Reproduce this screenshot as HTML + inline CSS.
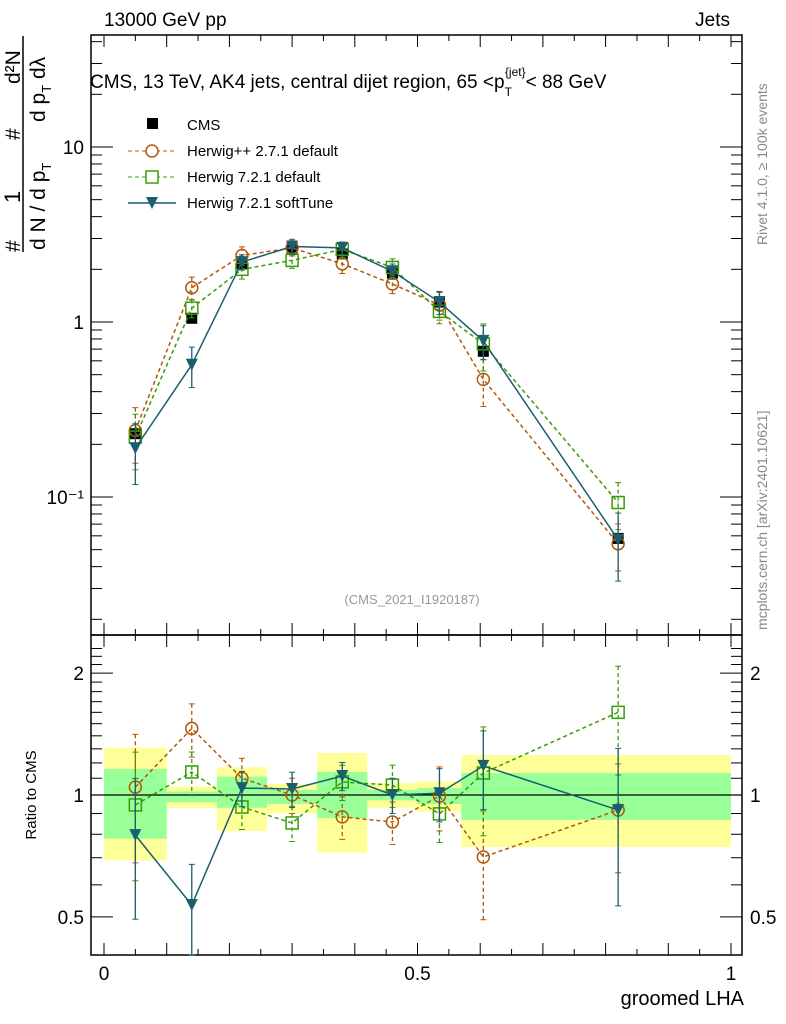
<!DOCTYPE html>
<html><head><meta charset="utf-8"><style>
body{margin:0;background:#fff;}
svg{display:block;font-family:"Liberation Sans",sans-serif;}
</style></head><body>
<svg id="plot" width="786" height="1024" viewBox="0 0 786 1024">
<g id="bands"></g>
<g id="axes"></g>
<g id="series"></g>
<text x="104" y="26" font-size="19">13000 GeV pp</text>
<text x="730" y="26" font-size="19" text-anchor="end">Jets</text>
<text x="90" y="88" font-size="19">CMS, 13 TeV, AK4 jets, central dijet region, 65 &lt;p<tspan font-size="12" dy="8">T</tspan><tspan font-size="12" dy="-20" dx="-7">{jet}</tspan><tspan dy="12">&lt; 88 GeV</tspan></text>
<text x="412" y="604" font-size="13" fill="#999" text-anchor="middle">(CMS_2021_I1920187)</text>
<text transform="translate(767,245) rotate(-90)" font-size="14" fill="#888">Rivet 4.1.0, ≥ 100k events</text>
<text transform="translate(767,630) rotate(-90)" font-size="14" fill="#888">mcplots.cern.ch [arXiv:2401.10621]</text>
<g font-size="21">
<text transform="translate(20,252) rotate(-90)">#</text>
<text transform="translate(20,203) rotate(-90)" font-size="22">1</text>
<text transform="translate(20,140) rotate(-90)">#</text>
<text transform="translate(20,84) rotate(-90)">d²N</text>
<line x1="23" y1="252" x2="23" y2="36" stroke="#000" stroke-width="1.5"/>
<text transform="translate(45,250) rotate(-90)">d N / d p<tspan font-size="13" dy="6">T</tspan></text>
<text transform="translate(45,122) rotate(-90)">d p<tspan font-size="13" dy="6">T</tspan><tspan dy="-6"> d</tspan>λ</text>
</g>
<text transform="translate(36,795) rotate(-90)" font-size="15" text-anchor="middle">Ratio to CMS</text>
<text x="744" y="1005" font-size="20" text-anchor="end">groomed LHA</text>
<g font-size="15">
<g><rect x="147" y="118" width="11" height="11" fill="#000"/><text x="187" y="130">CMS</text></g>
<g><line x1="128" y1="151" x2="176" y2="151" stroke="#b35806" stroke-dasharray="4,3"/><circle cx="152" cy="151" r="6" fill="#fff" stroke="#b35806" stroke-width="1.5"/><text x="187" y="156">Herwig++ 2.7.1 default</text></g>
<g><line x1="128" y1="177" x2="176" y2="177" stroke="#3a9a0a" stroke-dasharray="4,3"/><rect x="146" y="171" width="12" height="12" fill="#fff" stroke="#3a9a0a" stroke-width="1.5"/><text x="187" y="182">Herwig 7.2.1 default</text></g>
<g><line x1="128" y1="203" x2="176" y2="203" stroke="#1b5e6e" stroke-width="1.5"/><path d="M146,197 L158,197 L152,209 Z" fill="#1b5e6e"/><text x="187" y="208">Herwig 7.2.1 softTune</text></g>
</g>
</svg>
<script>
const xCenters=[0.05,0.14,0.22,0.30,0.38,0.46,0.535,0.605,0.82];
const binEdges=[0,0.1,0.18,0.26,0.34,0.42,0.5,0.57,0.65,1.0];
const cmsVals=[0.23,1.05,2.15,2.65,2.45,1.9,1.3,0.68,0.058];
const hwppVals=[0.24,1.57,2.4,2.65,2.15,1.65,1.25,0.47,0.054];
const h7defVals=[0.22,1.2,2.0,2.25,2.6,2.05,1.15,0.75,0.093];
const h7softVals=[0.19,0.57,2.2,2.7,2.65,1.95,1.3,0.78,0.057];
const hwppErr=[0.35,0.15,0.12,0.1,0.12,0.12,0.18,0.3,0.3];
const h7defErr=[0.35,0.12,0.12,0.1,0.1,0.12,0.15,0.3,0.3];
const h7softErr=[0.38,0.26,0.1,0.1,0.08,0.1,0.15,0.22,0.42];
const hwppRatio=[1.046,1.46,1.10,1.0,0.883,0.858,0.994,0.703,0.918];
const h7defRatio=[0.945,1.14,0.934,0.853,1.077,1.058,0.898,1.133,1.60];
const h7softRatio=[0.796,0.535,1.04,1.035,1.114,1.0,1.01,1.18,0.918];
const yellowLo=[0.69,0.93,0.815,0.90,0.72,0.93,0.91,0.744,0.744];
const yellowHi=[1.31,1.05,1.17,1.065,1.27,1.07,1.08,1.255,1.255];
const greenLo=[0.78,0.96,0.93,0.95,0.877,0.97,0.95,0.868,0.868];
const greenHi=[1.16,1.02,1.11,1.03,1.14,1.03,1.04,1.133,1.133];
const mainTicks=[0.1,1,10];
const mainTickLabels=["10\u207B\u00B9","1","10"];
const ratioTicks=[0.5,1,2];
const ratioTickLabels=["0.5","1","2"];
const xTicks=[0,0.5,1];
const xTickLabels=["0","0.5","1"];

const NS="http://www.w3.org/2000/svg";
const L=91,R=742,T=35,MB=635,RB=955;
const X=v=>104+v*(731-104);
const Y=v=>322-Math.log10(v)*175;
const YR=v=>795-Math.log10(v)*405;
function mk(tag,attrs,parent){const e=document.createElementNS(NS,tag);for(const k in attrs)e.setAttribute(k,attrs[k]);parent.appendChild(e);return e;}
const bands=document.getElementById('bands'),axes=document.getElementById('axes'),series=document.getElementById('series');

for(let i=0;i<xCenters.length;i++){
  const x1=X(binEdges[i]),x2=X(binEdges[i+1]);
  const y=mk('rect',{x:x1,y:YR(yellowHi[i]),width:x2-x1,height:YR(yellowLo[i])-YR(yellowHi[i]),fill:'#ffff99'},bands);
  
  
  const g=mk('rect',{x:x1,y:YR(greenHi[i]),width:x2-x1,height:YR(greenLo[i])-YR(greenHi[i]),fill:'#99ff99'},bands);
  
  
}
mk('rect',{x:L,y:T,width:R-L,height:MB-T,fill:'none',stroke:'#000','stroke-width':1.5},axes);
mk('rect',{x:L,y:MB,width:R-L,height:RB-MB,fill:'none',stroke:'#000','stroke-width':1.5},axes);
mk('line',{x1:L,x2:R,y1:YR(1),y2:YR(1),stroke:'#000','stroke-width':1.2},axes);
for(let v=0;v<=1.0001;v+=0.05){
  const big=Math.abs(v*10-Math.round(v*10))<1e-6;const len=big?12:6;
  for(const [yb,yt] of [[MB,T],[RB,MB]]){
    mk('line',{x1:X(v),x2:X(v),y1:yb,y2:yb-len,stroke:'#000'},axes);
    mk('line',{x1:X(v),x2:X(v),y1:yt,y2:yt+len,stroke:'#000'},axes);
  }
}
xTicks.forEach((v,i)=>{const t=mk('text',{x:X(v),y:980,'font-size':19,'text-anchor':'middle'},axes);t.textContent=xTickLabels[i];

});
for(let d=-2;d<=1;d++)for(let m=1;m<=9;m++){const v=m*Math.pow(10,d);const y=Y(v);if(y<T||y>MB)continue;const len=m==1?22:11;
  mk('line',{x1:L,x2:L+len,y1:y,y2:y,stroke:'#000'},axes);mk('line',{x1:R,x2:R-len,y1:y,y2:y,stroke:'#000'},axes);}
mainTicks.forEach((v,i)=>{const t=mk('text',{x:84,y:Y(v)+7,'font-size':19,'text-anchor':'end'},axes);t.textContent=mainTickLabels[i];

});
for(let v=0.4;v<=2.31;v+=0.1){const y=YR(v);if(y<MB||y>RB)continue;const r=Math.round(v*10);const len=(r==5||r==10||r==20)?22:11;
  mk('line',{x1:L,x2:L+len,y1:y,y2:y,stroke:'#000'},axes);mk('line',{x1:R,x2:R-len,y1:y,y2:y,stroke:'#000'},axes);}
ratioTicks.forEach((v,i)=>{for(const [x,a] of [[84,'end'],[750,'start']]){const t=mk('text',{x:x,y:YR(v)+7,'font-size':19,'text-anchor':a},axes);t.textContent=ratioTickLabels[i];

}});

function marker(kind,x,y,c,g){
  if(kind=='sq')mk('rect',{x:x-5.5,y:y-5.5,width:11,height:11,fill:'#000'},g);
  else if(kind=='circ')mk('circle',{cx:x,cy:y,r:6,fill:'none',stroke:c,'stroke-width':1.5},g);
  else if(kind=='osq')mk('rect',{x:x-6,y:y-6,width:12,height:12,fill:'none',stroke:c,'stroke-width':1.5},g);
  else mk('path',{d:`M${x-6},${y-6} L${x+6},${y-6} L${x},${y+6} Z`,fill:c},g);
}
function drawSeries(name,vals,errs,fy,kind,c,dash,clipTop,clipBot){
  const g=mk('g',{},series);
  
  
  const pts=vals.map((v,i)=>[X(xCenters[i]),Math.min(clipBot,fy(v))]);
  if(kind!='sq')mk('polyline',{points:pts.map(p=>p.join(',')).join(' '),fill:'none',stroke:c,'stroke-width':1.5,'stroke-dasharray':dash},g);
  vals.forEach((v,i)=>{const x=pts[i][0];
    if(errs){const y1=Math.max(clipTop,fy(v*(1+errs[i]))),y2=Math.min(clipBot,fy(v*(1-errs[i])));
      mk('line',{x1:x,x2:x,y1:y1,y2:y2,stroke:c,'stroke-width':1.3,'stroke-dasharray':dash},g);
      mk('line',{x1:x-3,x2:x+3,y1:y1,y2:y1,stroke:c},g);mk('line',{x1:x-3,x2:x+3,y1:y2,y2:y2,stroke:c},g);}
    marker(kind,x,pts[i][1],c,g);});
}
drawSeries('cms-data',cmsVals,null,Y,'sq','#000','',T,MB);
drawSeries('herwigpp-default',hwppVals,hwppErr,Y,'circ','#b35806','4,3',T,MB);
drawSeries('herwig7-default',h7defVals,h7defErr,Y,'osq','#3a9a0a','4,3',T,MB);
drawSeries('herwig7-softtune',h7softVals,h7softErr,Y,'tri','#1b5e6e','',T,MB);
drawSeries('ratio-herwigpp',hwppRatio,hwppErr,YR,'circ','#b35806','4,3',MB,RB);
drawSeries('ratio-herwig7-default',h7defRatio,h7defErr,YR,'osq','#3a9a0a','4,3',MB,RB);
drawSeries('ratio-herwig7-softtune',h7softRatio,h7softErr,YR,'tri','#1b5e6e','',MB,RB);
</script>
</body></html>
